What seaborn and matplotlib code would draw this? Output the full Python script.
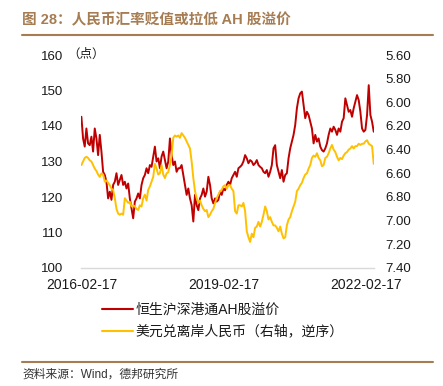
import numpy as np
import pandas as pd
import matplotlib
matplotlib.use("Agg")
import matplotlib.pyplot as plt
from matplotlib.lines import Line2D
import seaborn as sns

# ---------------- data ----------------
title = "图 28：人民币汇率贬值或拉低 AH 股溢价"
source = "资料来源：Wind，德邦研究所"
unit_label = "（点）"
label_ah = "恒生沪深港通AH股溢价"
label_cnh = "美元兑离岸人民币（右轴，逆序）"

start_date = "2016-02-17"
end_date = "2022-04-20"

ah_premium = [
    142.6, 136.5, 134.2, 139.3, 135.1, 134.6, 137.0, 132.8, 139.3, 136.5,
    131.8, 137.5, 132.8, 127.1, 126.2, 124.3, 119.6, 121.5, 119.2, 123.4,
    124.3, 126.7, 123.4, 124.8, 126.2, 123.4, 124.3, 122.4, 123.8, 119.6,
    116.8, 114.0, 118.7, 119.6, 121.0, 119.6, 123.4, 125.3, 126.2, 128.1,
    126.7, 129.0, 128.5, 131.4, 134.2, 130.0, 130.9, 128.1, 131.4, 132.8,
    130.4, 128.1, 130.0, 136.5, 131.8, 129.0, 130.0, 127.1, 128.1,
    128.1, 129.0, 126.2, 123.4, 120.6, 122.4, 119.6, 117.7, 113.1, 120.6,
    117.7, 116.3, 119.6, 120.6, 122.4, 120.1, 121.5, 125.7, 123.4, 119.6,
    118.2, 119.6, 118.7, 119.2, 121.5, 120.6, 122.4, 121.9, 123.4, 124.3,
    123.4, 125.3, 126.2, 127.1, 125.7, 128.1, 128.5, 129.0, 130.0, 131.8,
    130.9, 129.5, 130.4, 130.0, 129.0, 129.5, 130.4, 129.0, 128.5, 128.1,
    127.1, 126.7, 127.6, 125.7, 127.1, 129.0, 133.7, 134.6,
    129.0, 127.1, 125.3, 127.6, 124.3, 126.2, 126.7, 130.9, 133.7, 135.6,
    137.5, 140.3, 145.0, 147.8, 149.2, 149.7, 145.9, 142.2, 144.0, 143.1,
    141.2, 139.3, 135.1, 137.5, 135.6, 136.5, 134.2, 133.2, 132.8, 133.7,
    135.1, 137.5, 139.3, 138.4, 139.8, 138.9, 137.5, 139.3, 138.4, 141.2,
    142.2, 147.8, 145.9, 144.0, 144.5, 142.6, 145.0, 146.9, 148.7, 147.3,
    144.0, 139.3, 138.4, 138.9, 143.1, 151.5, 143.1, 141.2, 138.4,
]

usd_cnh = [
    6.53, 6.50, 6.47, 6.46, 6.47, 6.49, 6.50, 6.53, 6.56, 6.58,
    6.61, 6.63, 6.60, 6.61, 6.67, 6.66, 6.68, 6.70, 6.73, 6.74,
    6.81, 6.90, 6.94, 6.95, 6.94, 6.95, 6.81, 6.83, 6.85, 6.84,
    6.88, 6.87, 6.88, 6.90, 6.91, 6.87, 6.88, 6.81, 6.78, 6.83,
    6.74, 6.71, 6.67, 6.63, 6.52, 6.56, 6.61, 6.60, 6.53, 6.61,
    6.64, 6.60, 6.59, 6.53, 6.45, 6.30, 6.28, 6.29, 6.28,
    6.30, 6.26, 6.28, 6.30, 6.33, 6.36, 6.39, 6.50, 6.64, 6.75,
    6.81, 6.85, 6.83, 6.87, 6.90, 6.92, 6.91, 6.97, 6.95, 6.92,
    6.90, 6.85, 6.81, 6.78, 6.75, 6.74, 6.71, 6.70, 6.73, 6.70,
    6.70, 6.73, 6.75, 6.92, 6.94, 6.87, 6.87, 6.88, 6.85, 6.92,
    7.09, 7.14, 7.18, 7.11, 7.14, 7.06, 7.05, 7.01, 7.05, 7.01,
    6.95, 6.88, 6.92, 6.99, 6.97, 7.01, 7.04, 7.04,
    7.06, 7.09, 7.05, 7.11, 7.15, 7.14, 7.04, 6.99, 6.97, 6.92,
    6.88, 6.84, 6.75, 6.73, 6.70, 6.68, 6.64, 6.61, 6.60, 6.56,
    6.53, 6.47, 6.45, 6.46, 6.43, 6.47, 6.49, 6.54, 6.53, 6.47,
    6.46, 6.43, 6.39, 6.36, 6.40, 6.42, 6.46, 6.49, 6.47, 6.48,
    6.45, 6.43, 6.42, 6.40, 6.39, 6.37, 6.39, 6.37, 6.37, 6.35,
    6.36, 6.35, 6.35, 6.33, 6.32, 6.35, 6.36, 6.37, 6.52,
]

x_ticks = ["2016-02-17", "2019-02-17", "2022-02-17"]
left_ticks = [100, 110, 120, 130, 140, 150, 160]
right_ticks = [5.60, 5.80, 6.00, 6.20, 6.40, 6.60, 6.80, 7.00, 7.20, 7.40]

dates = pd.date_range(start_date, end_date, periods=len(ah_premium))
df = pd.DataFrame({"date": dates, "ah": ah_premium, "cnh": usd_cnh})

# ---------------- style ----------------
sns.set_theme(style="white")
plt.rcParams["font.family"] = ["Liberation Sans", "Noto Sans CJK SC", "DejaVu Sans"]

RED = "#C00000"
YELLOW = "#FFC000"
BROWN = "#A67C52"
TXT = "#1a1a1a"

W, H = 443, 386
fig = plt.figure(figsize=(W / 100, H / 100), dpi=100)
ax = fig.add_axes([81 / W, 1 - 268 / H, 293 / W, 213 / H])

sns.lineplot(data=df, x="date", y="ah", ax=ax, color=RED, lw=1.4, legend=False)
ax2 = ax.twinx()
sns.lineplot(data=df, x="date", y="cnh", ax=ax2, color=YELLOW, lw=1.4, legend=False)

ax.set_xlim(pd.Timestamp("2016-02-14"), pd.Timestamp("2022-04-22"))
ax.set_ylim(100, 160)
ax2.set_ylim(7.40, 5.60)

ax.set_xticks(pd.to_datetime(x_ticks))
ax.set_xticklabels(x_ticks)
ax.set_yticks(left_ticks)
ax.set_yticklabels([str(v) for v in left_ticks])
ax2.set_yticks(right_ticks)
ax2.set_yticklabels([f"{v:.2f}" for v in right_ticks])

for a in (ax, ax2):
    a.set_xlabel("")
    a.set_ylabel("")
    for s in a.spines.values():
        s.set_visible(False)
    a.grid(False)
ax.spines["bottom"].set_visible(True)
ax.spines["bottom"].set_color("#D9D9D9")
ax.spines["bottom"].set_linewidth(1.0)

ax.tick_params(axis="x", length=0, pad=7, labelsize=10, labelcolor=TXT)
ax.tick_params(axis="y", length=0, pad=13, labelsize=9.5, labelcolor=TXT)
ax2.tick_params(axis="y", length=0, pad=8, labelsize=9.5, labelcolor=TXT)

fig.text(67 / W, 1 - 55 / H, unit_label, fontsize=9, color=TXT, va="center", ha="left")

# title and rules
fig.text(22 / W, 1 - 20 / H, title, fontsize=10.5, fontweight="bold", color=BROWN,
         va="center", ha="left")
fig.add_artist(Line2D([22 / W, 433 / W], [1 - 35 / H] * 2, color=BROWN, lw=1.5))
fig.add_artist(Line2D([22 / W, 433 / W], [1 - 362 / H] * 2, color=BROWN, lw=1.5))
fig.text(22 / W, 1 - 375 / H, source, fontsize=8.5, color="#333333", va="center", ha="left")

# legend
handles = [Line2D([], [], color=RED, lw=1.5), Line2D([], [], color=YELLOW, lw=1.5)]
fig.legend(handles, [label_ah, label_cnh], loc="upper left",
           bbox_to_anchor=(102 / W, 1 - 303 / H), frameon=False, fontsize=10,
           handlelength=2.2, handletextpad=0.2, labelspacing=0.55,
           borderpad=0, borderaxespad=0, labelcolor=TXT)

fig.savefig("out.png", dpi=100)
